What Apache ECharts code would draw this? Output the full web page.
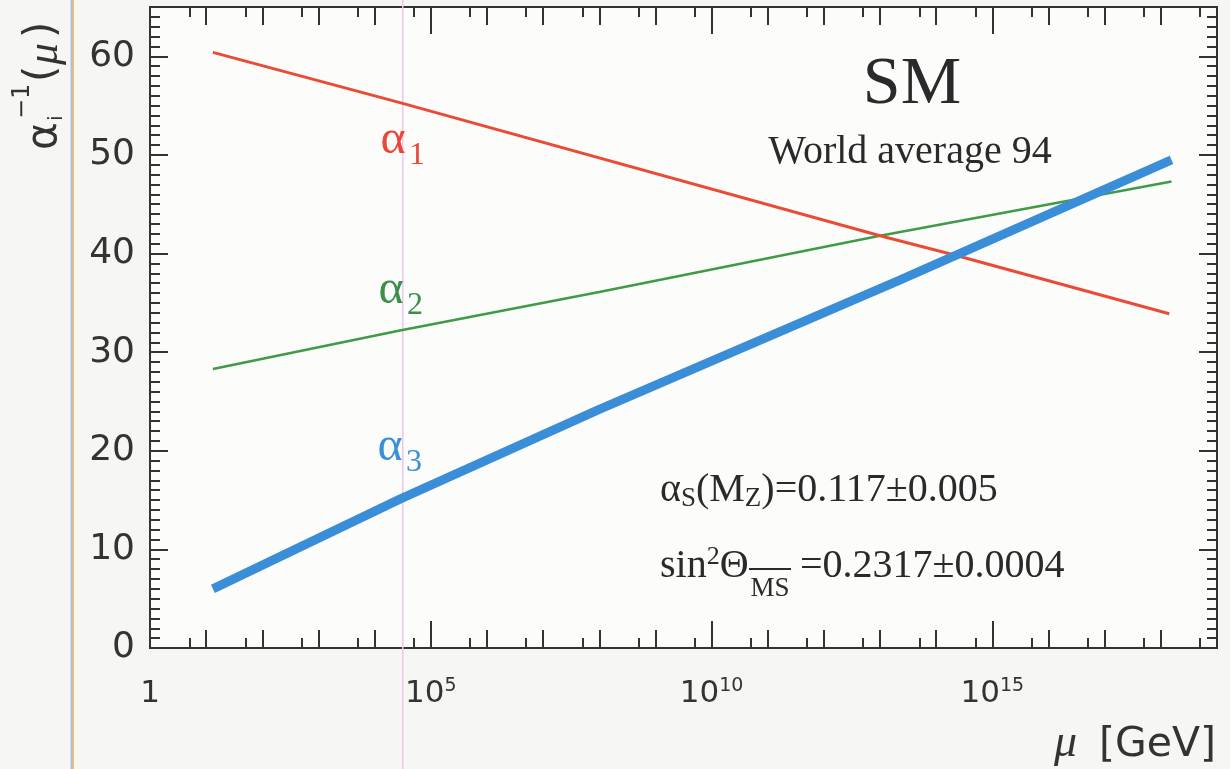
<!DOCTYPE html>
<html><head><meta charset="utf-8">
<script src="https://cdn.jsdelivr.net/npm/echarts@6/dist/echarts.min.js"></script>
<style>html,body{margin:0;padding:0;background:#f6f6f3}#c{width:1230px;height:769px}</style>
</head><body><div id="c"></div>
<script>
// exponents of mu [GeV] (log10) and inverse couplings
const alpha1LogMu = [1.12, 4.45, 13.0, 14.36, 18.15];
const alpha1Inv   = [60.4, 55.3, 41.8, 39.8, 33.9];
const alpha2LogMu = [1.12, 4.45, 8.0, 13.0, 16.4, 18.19];
const alpha2Inv   = [28.3, 32.2, 36.1, 41.8, 45.4, 47.3];
const alpha3LogMu = [1.12, 4.45, 8.0, 13.35, 18.19];
const alpha3Inv   = [6.0, 15.1, 24.2, 37.3, 49.5];
const xLabelExp   = [0, 5, 10, 15];
const xDecadeExp  = [1,2,3,4,6,7,8,9,11,12,13,14,16,17,18];
const xFiveExp    = [0,1,2,3,4,5,6,7,8,9,10,11,12,13,14,15,16,17,18].map(n => n + Math.log10(5));
const yLabelVals  = [0, 10, 20, 30, 40, 50, 60];
const yMinorVals  = [];
for (let v = 1; v < 65; v++) if (v % 10) yMinorVals.push(v);

const SANS = 'DejaVu Sans';
const SERIF = 'Liberation Serif';
const AX = '#333';
const TXT = '#2a2a2a';

function pairs(xs, ys) { return xs.map((x, i) => [x, ys[i]]); }

function xAx(pos, ticks, len, opts) {
  return Object.assign({
    type: 'value', position: pos, min: 0, max: 19, interval: 5,
    axisLine: { show: true, onZero: false, lineStyle: { color: AX, width: 2 } },
    axisTick: { show: true, inside: true, length: len, customValues: ticks, lineStyle: { color: AX, width: 2 } },
    axisLabel: { show: false },
    splitLine: { show: false }
  }, opts || {});
}
function yAx(pos, ticks, len, opts) {
  return Object.assign({
    type: 'value', position: pos, min: 0, max: 65, interval: 10,
    axisLine: { show: true, onZero: false, lineStyle: { color: AX, width: 2 } },
    axisTick: { show: true, inside: true, length: len, customValues: ticks, lineStyle: { color: AX, width: 2 } },
    axisLabel: { show: false },
    splitLine: { show: false }
  }, opts || {});
}

const xLabelCfg = {
  show: true, margin: 29, customValues: xLabelExp,
  formatter: v => v === 0 ? '{n|1}' : '{n|10}{s|' + v + '}',
  rich: {
    n: { fontFamily: SANS, fontSize: 31, color: AX, lineHeight: 34 },
    s: { fontFamily: SANS, fontSize: 19, color: AX, lineHeight: 14, verticalAlign: 'top' }
  }
};
const yLabelCfg = {
  show: true, margin: 15, customValues: yLabelVals,
  fontFamily: SANS, fontSize: 36, color: AX
};

const chart = echarts.init(document.getElementById('c'), null, { renderer: 'canvas' });

const red = '#ea4b37', green = '#3f9a4a', blue = '#3a8ed8';

function sym(x, y, main, sub, color) {
  return [
    { type: 'text', x: x, y: y, style: { text: main, font: '48px "' + SERIF + '"', fill: color, align: 'center', verticalAlign: 'middle' }, z: 50 },
    { type: 'text', x: x + 16, y: y + 16, style: { text: sub, font: '32px "' + SERIF + '"', fill: color, align: 'left', verticalAlign: 'middle' }, z: 50 }
  ];
}

chart.setOption({
  backgroundColor: '#f6f6f3',
  animation: false,
  grid: { left: 150, right: 13, top: 7, bottom: 121, show: true, backgroundColor: '#fcfcfa', borderWidth: 0 },
  xAxis: [
    xAx('bottom', xLabelExp, 27, { axisLabel: xLabelCfg }),
    xAx('bottom', xDecadeExp, 18),
    xAx('bottom', xFiveExp, 10),
    xAx('top', xLabelExp, 27),
    xAx('top', xDecadeExp, 18),
    xAx('top', xFiveExp, 10)
  ],
  yAxis: [
    yAx('left', yLabelVals, 18, { axisLabel: yLabelCfg }),
    yAx('left', yMinorVals, 10),
    yAx('right', yLabelVals, 18),
    yAx('right', yMinorVals, 10)
  ],
  series: [
    { type: 'line', name: 'alpha2', data: pairs(alpha2LogMu, alpha2Inv), showSymbol: false, symbol: 'none',
      lineStyle: { color: green, width: 2.5 }, z: 3 },
    { type: 'line', name: 'alpha1', data: pairs(alpha1LogMu, alpha1Inv), showSymbol: false, symbol: 'none',
      lineStyle: { color: red, width: 3 }, z: 4 },
    { type: 'line', name: 'alpha3', data: pairs(alpha3LogMu, alpha3Inv), showSymbol: false, symbol: 'none',
      lineStyle: { color: blue, width: 9, cap: 'butt' }, z: 5 }
  ],
  graphic: [
    // scan artefacts
    { type: 'rect', shape: { x: 70.5, y: 0, width: 1.5, height: 769 }, style: { fill: '#9ec3ee' }, z: 1 },
    { type: 'rect', shape: { x: 72, y: 0, width: 2, height: 769 }, style: { fill: '#f0b77a' }, z: 1 },
    { type: 'rect', shape: { x: 402, y: 0, width: 1.5, height: 769 }, style: { fill: '#f2c2f0' }, z: 1 },
    // y-axis title
    { type: 'group', x: 45, y: 150, rotation: Math.PI / 2, z: 50, children: [
      { type: 'text', x: 0, y: 0, style: { text: 'α', font: '42px "' + SANS + '"', fill: AX, align: 'left', verticalAlign: 'middle' } },
      { type: 'text', x: 31, y: -22, style: { text: '−1', font: '24px "' + SANS + '"', fill: AX, align: 'left', verticalAlign: 'middle' } },
      { type: 'text', x: 29, y: 12, style: { text: 'i', font: '20px "' + SANS + '"', fill: AX, align: 'left', verticalAlign: 'middle' } },
      { type: 'text', x: 68, y: -2, style: { text: '(', font: '42px "' + SANS + '"', fill: AX, align: 'left', verticalAlign: 'middle' } },
      { type: 'text', x: 85, y: 0, style: { text: 'μ', font: 'italic 44px "' + SERIF + '"', fill: AX, align: 'left', verticalAlign: 'middle' } },
      { type: 'text', x: 112, y: -2, style: { text: ')', font: '42px "' + SANS + '"', fill: AX, align: 'left', verticalAlign: 'middle' } }
    ]},
    // x-axis title
    { type: 'text', x: 1077, y: 744, style: { text: 'μ', font: 'italic 46px "' + SERIF + '"', fill: AX, align: 'right', verticalAlign: 'middle' }, z: 50 },
    { type: 'text', x: 1216, y: 745, style: { text: '[GeV]', font: '41px "' + SANS + '"', fill: AX, align: 'right', verticalAlign: 'middle' }, z: 50 },
    // line labels
    ...sym(393, 140, 'α', '1', '#e8473a'),
    ...sym(391, 290, 'α', '2', '#3d8e48'),
    ...sym(390, 447, 'α', '3', '#3a8fd8'),
    // annotations
    { type: 'text', x: 912, y: 85, style: { text: 'SM', font: '68px "' + SERIF + '"', fill: TXT, align: 'center', verticalAlign: 'middle' }, z: 50 },
    { type: 'text', x: 910, y: 152, style: { text: 'World average 94', font: '40px "' + SERIF + '"', fill: TXT, align: 'center', verticalAlign: 'middle' }, z: 50 },
    { type: 'text', x: 660, y: 490, z: 50, style: {
      text: '{g|α}{sub|S}{t|(M}{sub|Z}{t|)=0.117±0.005}',
      align: 'left', verticalAlign: 'middle',
      rich: {
        g: { font: '40px "' + SERIF + '"', fill: TXT, lineHeight: 44 },
        t: { font: '40px "' + SERIF + '"', fill: TXT, lineHeight: 44 },
        sub: { font: '27px "' + SERIF + '"', fill: TXT, lineHeight: 20, verticalAlign: 'bottom' }
      } } },
    { type: 'text', x: 660, y: 566, z: 50, style: {
      text: '{t|sin}{sup|2}{t|Θ}',
      align: 'left', verticalAlign: 'middle',
      rich: {
        t: { font: '40px "' + SERIF + '"', fill: TXT, lineHeight: 44 },
        sup: { font: '26px "' + SERIF + '"', fill: TXT, lineHeight: 20, verticalAlign: 'top' }
      } } },
    { type: 'text', x: 770, y: 589, z: 50, style: { text: 'MS', font: '27px "' + SERIF + '"', fill: TXT, align: 'center', verticalAlign: 'middle' } },
    { type: 'rect', z: 50, shape: { x: 749, y: 568, width: 42, height: 2 }, style: { fill: TXT } },
    { type: 'text', x: 800, y: 566, z: 50, style: { text: '=0.2317±0.0004', font: '40px "' + SERIF + '"', fill: TXT, align: 'left', verticalAlign: 'middle' } }
  ]
});
</script>
</body></html>
